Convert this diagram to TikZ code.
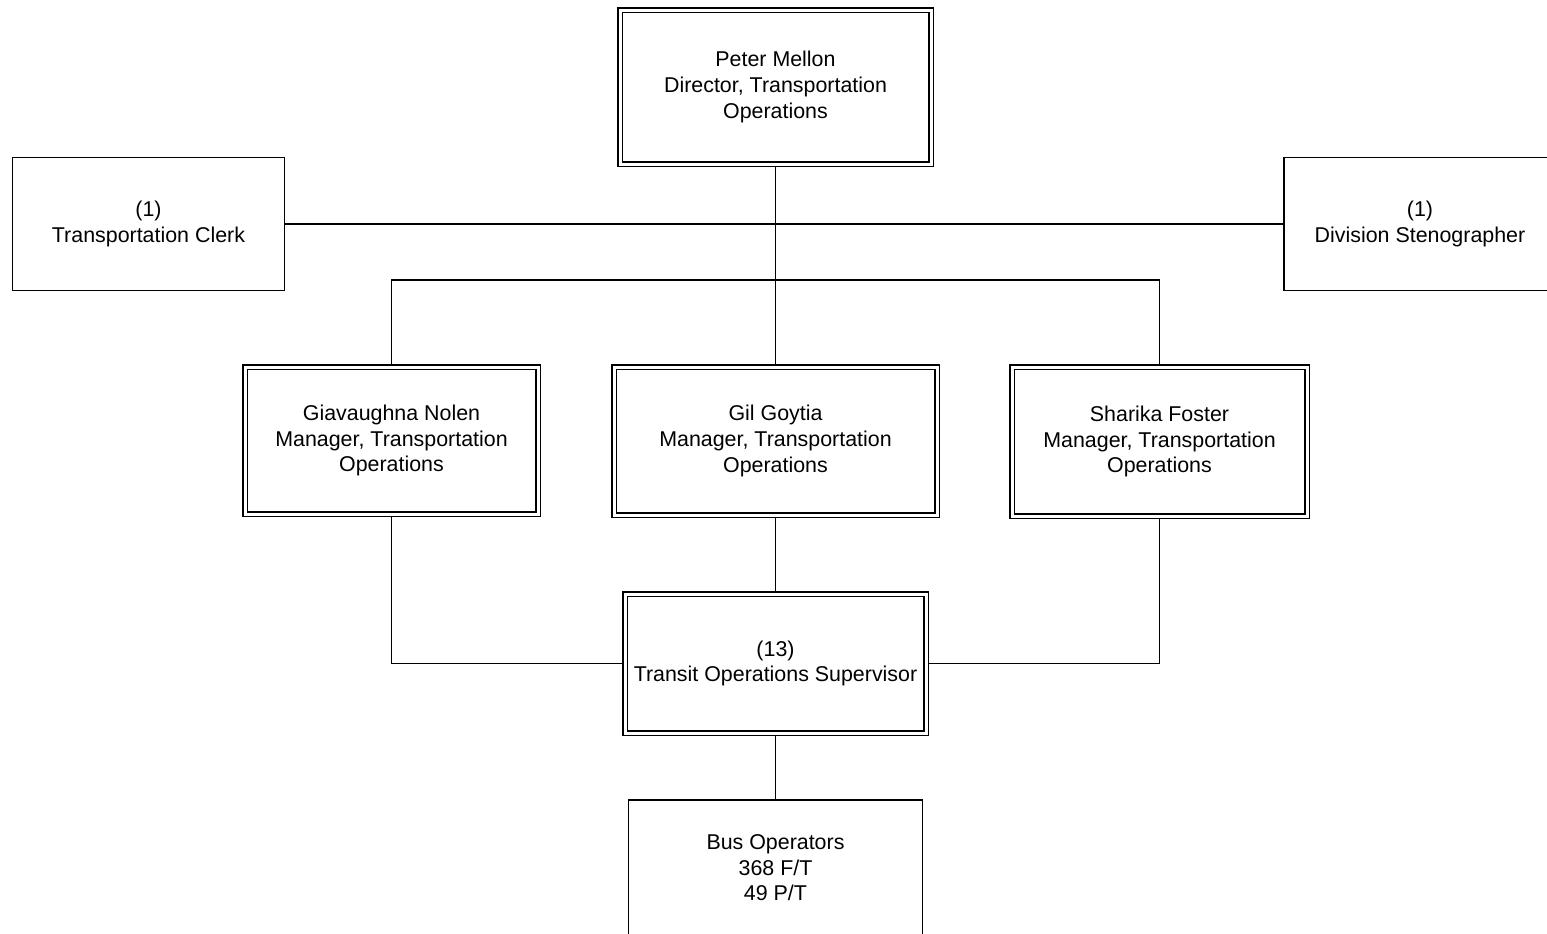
\documentclass[tikz,border=0pt]{standalone}
\usepackage{fontspec}
\setmainfont{Liberation Sans}
\usepackage{tikz}
\usetikzlibrary{positioning,backgrounds}
\definecolor{chartline}{HTML}{000000}
\tikzstyle{post} = [draw=chartline, line width=0.75pt, double, double distance=1.5pt, align=center, inner sep=0pt, font=\fontsize{10.7}{12.8}\selectfont]
\tikzstyle{staff} = [draw=chartline, line width=0.75pt, align=center, inner sep=0pt, font=\fontsize{10.7}{12.8}\selectfont]
\tikzstyle{link} = [chartline, line width=0.85pt]

\begin{document}
\begin{tikzpicture}[x=0.5pt, y=-0.5pt]
\useasboundingbox (0,0) rectangle (1547,933);

% director and staff
\node[post, minimum width=155.5pt, minimum height=77pt] (director) at (775.5,87) {Peter Mellon\\Director, Transportation\\Operations};
\node[staff, minimum width=136pt, minimum height=66.5pt] (clerk) at (148.5,224) {(1)\\Transportation Clerk};
\node[staff, minimum width=136pt, minimum height=66.5pt] (steno) at (1420,224) {(1)\\Division Stenographer};

% managers
\node[post, minimum width=146.5pt, minimum height=73.5pt] (mgrA) at (391.5,440.5) {Giavaughna Nolen\\Manager, Transportation\\Operations};
\node[post, minimum width=161.5pt, minimum height=74pt] (mgrB) at (775.5,441) {Gil Goytia\\Manager, Transportation\\Operations};
\node[post, minimum width=147.5pt, minimum height=74.5pt] (mgrC) at (1159.5,441.5) {Sharika Foster\\Manager, Transportation\\Operations};

% supervisors and operators
\node[post, minimum width=150.5pt, minimum height=69.5pt] (sup) at (775.5,663.5) {(13)\\Transit Operations Supervisor};
\node[staff, minimum width=147pt, minimum height=68pt] (bus) at (775.5,868) {Bus Operators\\368 F/T\\49 P/T};

\coordinate (split) at (775.5,280);

\begin{scope}[on background layer]
\draw[link] (director.south) -- (split);
\draw[link] (clerk.east) -- (steno.west);
\draw[link] (mgrA.north) |- (split) -| (mgrC.north);
\draw[link] (split) -- (mgrB.north);
\draw[link] (mgrA.south) |- (sup.west);
\draw[link] (mgrC.south) |- (sup.east);
\draw[link] (mgrB.south) -- (sup.north);
\draw[link] (sup.south) -- (bus.north);
\end{scope}
\end{tikzpicture}
\end{document}
